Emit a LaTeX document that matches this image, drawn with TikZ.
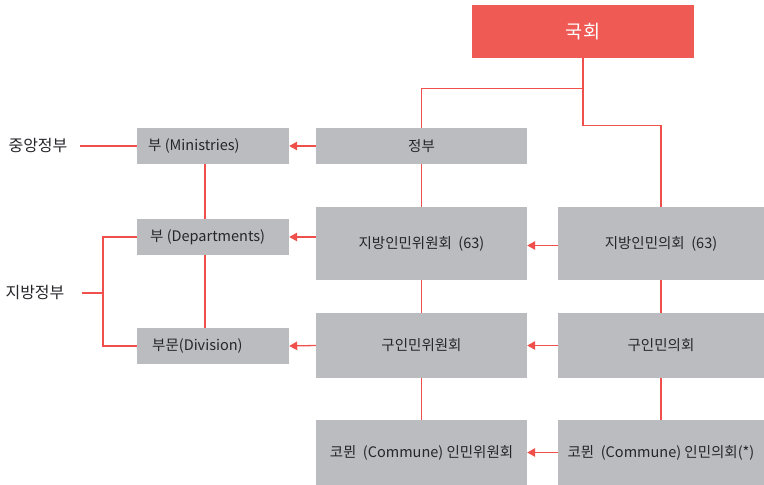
\documentclass[tikz,border=0pt]{standalone}
\usepackage{fontspec}
\setmainfont{Noto Sans CJK KR}
\usetikzlibrary{arrows.meta,calc}
\definecolor{boxgray}{HTML}{BBBCBF}
\definecolor{boxred}{HTML}{F05A55}
\definecolor{linered}{HTML}{F0504B}
\definecolor{txt}{HTML}{25252A}
\tikzset{
  gbox/.style={fill=boxgray, draw=none, text=txt, font=\fontsize{14.5}{16}\selectfont, inner sep=0pt, align=center},
  ltxt/.style={anchor=west, text=txt, font=\fontsize{14.5}{16}\selectfont, inner sep=0pt},
  rbox/.style={fill=boxred, draw=none, text=white, font=\fontsize{18.5}{20}\selectfont, inner sep=0pt},
  lbl/.style={text=txt, font=\fontsize{16}{18}\selectfont, inner sep=0pt},
  conn/.style={draw=linered, line width=1.3pt},
  arr/.style={conn, -{Triangle[length=8pt,width=8.5pt]}},
}
\begin{document}
\begin{tikzpicture}[x=1pt,y=-1pt]
\useasboundingbox (0,0) rectangle (764,485);
% top
\node[rbox, minimum width=222, minimum height=53] (guk) at (583,31.5) {국회};
% centre column
\node[gbox, minimum width=211, minimum height=36] (jb) at (421.5,146) {정부};
\node[gbox, minimum width=211, minimum height=73] (jw) at (421.5,243.5) {지방인민위원회 \ (63)};
\node[gbox, minimum width=211, minimum height=65] (gw) at (421.5,345.5) {구인민위원회};
\node[gbox, minimum width=211, minimum height=65] (kw) at (421.5,452.5) {코뮌 \ (Commune) 인민위원회};
% right column
\node[gbox, minimum width=206, minimum height=73] (ju) at (661,243.5) {지방인민의회 \ (63)};
\node[gbox, minimum width=206, minimum height=65] (gu) at (661,345.5) {구인민의회};
\node[gbox, minimum width=206, minimum height=65] (ku) at (661,452.5) {코뮌 \ (Commune) 인민의회(*)};
% left column
\node[gbox, minimum width=152, minimum height=36] (mi) at (213,146) {};
\node[gbox, minimum width=152, minimum height=36] (de) at (213,237) {};
\node[gbox, minimum width=152, minimum height=36] (dv) at (213,346) {};
\node[ltxt] (mit) at (148,146) {부 (Ministries)};
\node[ltxt] (det) at (150,237) {부 (Departments)};
\node[ltxt] (dvt) at (152,346) {부문(Division)};
% side labels
\node[lbl] (cg) at (38,146) {중앙정부};
\node[lbl] (lg) at (35,293) {지방정부};
\coordinate (c1) at (80,146);
\coordinate (c2) at (82,293);
\coordinate (br) at (103,293);
% connectors from 국회
\draw[conn] (guk.south) -- ++(0,30) -| (jb.north);
\draw[conn] (guk.south) -- ++(0,67) -| (ju.north);
% vertical lines
\draw[conn] (jb.south) -- (jw.north);
\draw[conn] (jw.south) -- (gw.north);
\draw[conn] (gw.south) -- (kw.north);
\draw[conn] (ju.south) -- (gu.north);
\draw[conn] (gu.south) -- (ku.north);
\draw[conn] ([xshift=-8]mi.south) -- ([xshift=-8]de.north);
\draw[conn] ([xshift=-8]de.south) -- ([xshift=-8]dv.north);
% arrows
\draw[arr] (jb.west) -- (mi.east);
\draw[arr] (jw.west |- de.east) -- (de.east);
\draw[arr] (gw.west) -- (dv.east);
\draw[arr] ([yshift=-2]ju.west) -- ([yshift=-2]ju.west -| jw.east);
\draw[arr] (gu.west) -- (gw.east);
\draw[arr] (ku.west) -- (kw.east);
% side label lines
\draw[conn] (c1) -- (mi.west);
\draw[conn] (de.west) -- (br |- de.west) -- (br |- dv.west) -- (dv.west);
\draw[conn] (c2) -- (br);
\end{tikzpicture}
\end{document}
